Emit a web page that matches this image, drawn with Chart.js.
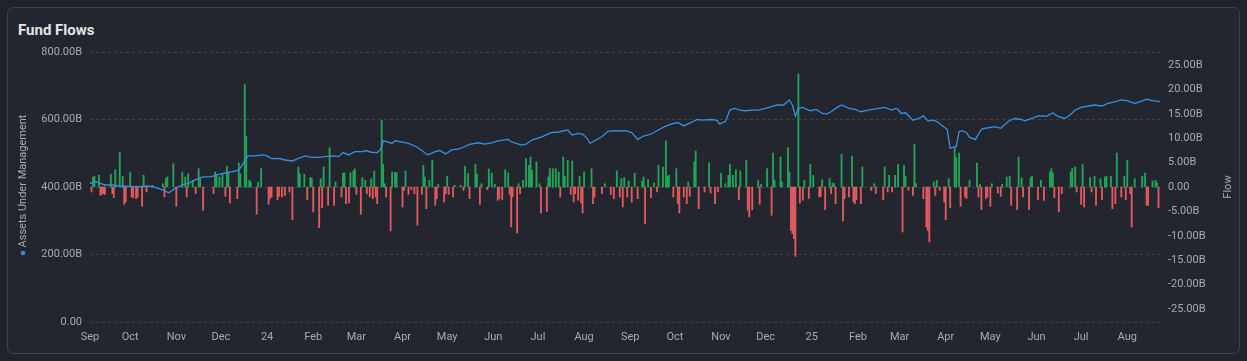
<!DOCTYPE html>
<html>
<head>
<meta charset="utf-8">
<title>Fund Flows</title>
<script src="https://cdn.jsdelivr.net/npm/chart.js@4.4.1/dist/chart.umd.min.js"></script>
<style>
    html, body { margin: 0; padding: 0; background: #20232a; }
    body { width: 1247px; height: 361px; position: relative; overflow: hidden; font-family: Roboto, "Noto Sans", sans-serif; }
    .card { position: absolute; left: 7px; top: 7px; width: 1231px; height: 345px; background: #23262e; border: 1px solid #3e424b; border-radius: 6px; }
    .title { position: absolute; left: 18px; top: 21px; font-size: 15px; font-weight: bold; color: #e4e5e7; }
    #chart-container { position: absolute; left: 0; top: 0; }
</style>
</head>
<body>
<div class="card"></div>
<div class="title">Fund Flows</div>
<canvas id="chart-container" width="1247" height="361"></canvas>
<script>
// x values are days counted from 2023-09-01
const monthTickDays = [3, 30, 61, 91, 122, 153, 182, 213, 243, 274, 304, 335, 366, 396, 427, 457, 488, 519, 547, 578, 608, 639, 669, 700];
const monthTickLabels = ["Sep", "Oct", "Nov", "Dec", "24", "Feb", "Mar", "Apr", "May", "Jun", "Jul", "Aug",
    "Sep", "Oct", "Nov", "Dec", "25", "Feb", "Mar", "Apr", "May", "Jun", "Jul", "Aug"];

// assets under management, billions
const aumDays = [3, 7, 10, 13, 18, 22, 29, 36, 42, 47, 52, 56, 59, 65, 69, 74, 78, 85, 88, 92, 98, 103, 106, 109, 114, 119,
    122, 125, 130, 134, 139, 143, 148, 152, 157, 161, 166, 170, 173, 177, 181, 186, 188, 192, 196, 198, 199, 200, 203, 206,
    208, 213, 217, 222, 226, 230, 235, 238, 242, 246, 251, 255, 258, 264, 268, 273, 277, 284, 286, 291, 293, 296, 300, 307,
    313, 318, 324, 327, 331, 334, 337, 339, 342, 347, 351, 356, 360, 363, 367, 371, 375, 380, 385, 389, 394, 398, 402, 406,
    411, 415, 420, 424, 426, 430, 433, 436, 440, 443, 448, 452, 457, 461, 465, 469, 473, 475, 477, 479, 482, 487, 491, 495,
    498, 501, 504, 508, 513, 517, 521, 526, 533, 537, 542, 544, 546, 548, 551, 553, 556, 560, 563, 566, 570, 573, 577, 579,
    581, 584, 585, 587, 589, 592, 594, 598, 602, 604, 609, 611, 615, 620, 624, 629, 631, 636, 640, 646, 650, 653, 658, 661,
    665, 669, 674, 678, 683, 687, 692, 696, 700, 705, 709, 713, 717, 722];
const aumValues = [411, 416, 411, 406, 406, 403, 402, 401, 403, 399, 391, 383, 393, 406, 411, 421, 429, 431, 436, 440, 445, 450, 470, 492, 492, 495,
    492, 484, 485, 480, 477, 485, 492, 488, 488, 490, 492, 490, 502, 495, 505, 505, 508, 503, 502, 510, 520, 537, 534, 529,
    537, 533, 529, 520, 508, 495, 505, 508, 498, 510, 513, 520, 526, 531, 527, 531, 537, 541, 534, 527, 524, 527, 539, 549,
    561, 563, 569, 554, 559, 557, 544, 529, 537, 549, 565, 567, 566, 567, 561, 541, 551, 557, 569, 579, 587, 591, 581, 589,
    600, 598, 600, 598, 587, 594, 628, 633, 628, 626, 628, 628, 633, 638, 643, 643, 658, 643, 610, 633, 636, 626, 630, 618,
    616, 623, 633, 643, 633, 630, 623, 628, 633, 636, 628, 633, 630, 618, 620, 611, 598, 603, 611, 596, 598, 591, 577, 571,
    515, 519, 519, 564, 567, 561, 547, 541, 571, 574, 577, 579, 574, 594, 603, 600, 596, 603, 611, 610, 620, 610, 603, 611,
    628, 636, 640, 643, 640, 648, 653, 658, 656, 648, 653, 660, 656, 653];

// daily net flow, billions
const flowDays = [4, 5, 6, 9, 10, 11, 12, 13, 17, 18, 19, 20, 23, 25, 26, 27, 30, 31, 32, 34, 35, 38, 39, 41, 45, 52, 53, 54, 55, 59,
    61, 65, 67, 68, 69, 72, 74, 76, 77, 79, 86, 87, 88, 90, 92, 94, 95, 96, 97, 102, 103, 104, 107, 108, 110, 111, 115, 116, 118,
    123, 124, 125, 129, 130, 132, 134, 137, 139, 143, 144, 147, 149, 151, 152, 153, 157, 158, 159, 160, 163, 164, 167, 168, 172,
    173, 174, 175, 177, 178, 180, 181,
    182, 185, 186, 188, 189, 191, 192, 193, 194, 195, 196, 199, 200, 201, 202, 205, 206, 208, 209, 213, 214, 215, 217, 219, 221,
    223, 226, 227, 228, 229, 231, 233, 235, 236, 237, 241, 242, 243, 244, 247, 248, 252, 254, 255, 257, 258, 262, 263, 265, 266,
    270, 271, 273, 275, 277, 278, 280, 282, 284, 285, 286, 287, 290, 291, 292, 294, 296, 298, 299, 300, 303, 305, 306, 310, 311,
    312, 314, 316, 318, 319, 321, 322, 324, 326, 327, 328, 329, 331, 332, 333, 334, 335, 340, 341, 342, 347, 349, 353, 355, 357,
    359, 360, 361, 362, 364, 365,
    367, 369, 371, 374, 375, 376, 378, 380, 382, 384, 385, 388, 390, 391, 392, 395, 397, 398, 399, 402, 404, 405, 406, 409, 410,
    412, 416, 419, 420, 423, 425, 427, 430, 432, 433, 435, 437, 439, 440, 444, 445, 446, 448, 452, 453, 454, 458, 461, 462, 463,
    467, 468, 472, 473, 474, 475, 476, 477, 479, 480, 482, 483, 486, 487, 489, 493, 494, 495, 497, 500, 501, 502, 503, 504, 508,
    509, 510, 513, 515, 516, 517, 518, 521, 522, 528, 530, 531, 536, 537, 539, 540,
    542, 544, 546, 549, 550, 551, 553, 556, 557, 558, 563, 565, 566, 567, 570, 571, 572, 574, 577, 578, 580, 581, 584, 585, 587,
    588, 591, 592, 594, 599, 600, 601, 602, 605, 606, 608, 609, 613, 615, 616, 619, 621, 622, 626, 627, 629, 630, 634, 635, 636,
    640, 642, 644, 648, 649, 650, 651, 654, 656, 662, 663, 665, 666, 669, 670, 671, 675, 676, 678, 679, 682, 683, 685, 686, 689,
    690, 692, 693, 696, 698, 699, 700, 702, 703, 705, 710, 712, 713, 714, 717, 719, 720, 721];
const flowValues = [-1.02, 2.05, 2.19, 2.39, -1.71, -1.5, -1.37, -1.5, 2.6, -1.37, -2.19, 3.55, 7.17, 2.19, -3.55, -3.07, 3.07, -2.05, -2.19, -2.39, -2.05, -3.96, 2.39, -1.02, 0.34, 0.68, -2.05, 1.71, 2.05, 4.78,
    -3.96, 3.07, 2.05, -2.05, 2.73, 1.37, -1.37, 3.76, 1.71, -4.78, -1.37, 3.07, 2.39, 2.05, 2.73, -1.91, 4.23, 3.07, -3.28, -2.39, 4.92, 2.73, 20.97, 10.38, 1.37, 1.02, -5.6, 1.02, 3.76,
    -3.55, -2.39, -2.05, -2.6, -1.91, -2.05, -1.71, -1.02, -6.69, 4.1, 2.73, 2.6, -2.6, 1.91, 1.84, -5.12, -8.33, 1.71, -4.23, 4.1, -3.76, 8.06, -3.76, 1.02, -2.05,
    2.87, 2.87, -3.42, -3.28, 2.94, 3.28, 3.69,
    -1.5, -5.6, 1.91, 1.37, -1.37, -2.05, 1.71, -2.39, 3.28, -2.05, -3.42, 13.66, 4.64, 0.68, -2.05, -9.02, 3.07, 3.01, 2.87, -4.1, -0.68, 3.28, -1.5, -0.55, -1.37,
    -7.86, -1.5, 4.44, 2.05, -4.44, 1.37, 5.46, -3.76, -2.39, 0.55, -3.07, -1.37, 2.19, -1.5, -2.05, 0.34, 0.34, -0.68, 4.23, 2.73, -2.39, 4.64, 2.6, -3.55, 0.68,
    -0.55, 3.69, 2.87, 0.55, -2.73, -2.39, -2.6, 3.55, 2.87, -1.5, -8.2, -2.05, -9.43, 0.68, -1.37, 1.37, 5.81, 4.44, 6.15, 3.42, 5.12, 0.68, -5.33, -4.99, 2.05,
    3.76, 3.76, 3.76, 3.07, -2.05, 6.15, 2.19, 5.46, -1.5, 5.33, -3.07, -1.37, -2.73, 2.19, -3.28, -5.33, 3.07, 3.76, -3.42, -2.05, -1.37, 0.68, -1.5, -2.39, 3.28,
    -2.05, 1.71, -4.1, 1.91, -2.05, 1.23,
    -3.07, 2.87, -2.39, 1.23, 2.05, -7.51, 1.5, -2.19, 0.82, -1.02, 4.44, 4.1, 9.43, 2.19, 2.39, -2.05, 3.76, -3.42, -5.33, -2.05, -3.42, 1.02, -1.91, 5.12, 7.38,
    -4.44, -1.02, 4.92, -1.23, -3.42, -1.02, 2.87, 0.68, 2.39, 4.64, 2.39, 3.55, -2.6, 3.28, 5.46, -4.78, -6.15, -4.64, 1.37, -3.55, 0.55, 3.76, -5.81, 6.97, 1.37,
    6.15, 1.02, 8.06, 3.07, -8.88, -9.56, -10.59, -14.21, 23.22, -3.28, -2.73, 1.37, -2.39, 4.64, 2.39, -2.05, -1.91, 1.5, -4.64, 1.71, -1.37, 0.82, 0.68, -3.42, 6.69,
    -6.97, -2.39, -2.05, 6.28, -3.07, -3.42, -2.6, -3.42, 4.1, -0.68, 0.68, -1.37, -2.6, 4.1, -1.02, 2.39,
    -1.02, 2.39, 4.64, -9.22, 4.44, 2.19, -0.68, -1.71, 8.74, 0.68, -2.39, -8.2, -8.88, -11.27, 1.02, -1.71, 1.37, -0.68, -3.07, -6.69, 1.71, -4.23, 8.2, 6.01, 6.97,
    -3.96, -2.05, -2.39, 1.37, 4.92, -2.05, 0.55, -4.64, -2.39, -2.05, -3.96, 0.68, -1.23, -1.91, 0.55, 2.05, 2.19, -3.76, -4.64, 6.15, 1.91, -2.05, -4.64, 1.91, 2.19,
    -2.6, 1.37, -2.73, 3.07, 3.76, 2.87, -2.19, -5.12, -1.37, 3.07, 3.76, 4.1, -1.02, -3.55, 4.64, -4.1, 1.91, -1.02, 2.19, -3.76, 1.71, -2.6, 2.05, 2.19, 2.19,
    -4.44, -3.42, 6.97, -2.05, 2.19, -2.6, 5.46, -1.37, -8.2, 1.71, 2.19, 2.87, -3.76, -3.76, 1.23, 1.37, 0.82, -4.23];

const GREEN = "#22a559";
const RED = "#e05a5f";
const LINE_BLUE = "#3a8fe3";
const TEXT = "#a8abb1";

const fmtB = (v) => (v === 0 ? "0.00" : v.toFixed(2) + "B");

// draws the rotated axis titles (both read bottom to top) and the legend dot
const axisTitles = {
    id: "axisTitles",
    afterDraw(chart) {
        const ctx = chart.ctx;
        ctx.save();
        ctx.font = "11px Roboto, 'Noto Sans', sans-serif";
        ctx.fillStyle = TEXT;
        ctx.textAlign = "center";
        ctx.textBaseline = "middle";

        ctx.save();
        ctx.translate(23, 181);
        ctx.rotate(-Math.PI / 2);
        ctx.fillText("Assets Under Management", 0, 0);
        ctx.restore();

        ctx.beginPath();
        ctx.arc(23, 253, 2.3, 0, Math.PI * 2);
        ctx.fillStyle = LINE_BLUE;
        ctx.fill();

        ctx.fillStyle = TEXT;
        ctx.save();
        ctx.translate(1228, 187);
        ctx.rotate(-Math.PI / 2);
        ctx.fillText("Flow", 0, 0);
        ctx.restore();
        ctx.restore();
    },
};

new Chart(document.getElementById("chart-container"), {
    data: {
        datasets: [
            {
                type: "line",
                label: "Assets Under Management",
                data: aumDays.map((d, i) => ({ x: d, y: aumValues[i] })),
                yAxisID: "y",
                borderColor: LINE_BLUE,
                borderWidth: 1.3,
                pointRadius: 0,
                tension: 0,
                order: 0,
            },
            {
                type: "bar",
                label: "Flow",
                data: flowDays.map((d, i) => ({ x: d, y: flowValues[i] })),
                yAxisID: "y1",
                backgroundColor: (c) => (c.raw && c.raw.y < 0 ? RED : GREEN),
                barThickness: 1.2,
                order: 1,
            },
        ],
    },
    options: {
        responsive: false,
        animation: false,
        layout: { padding: { top: 52, left: 10, right: 10, bottom: 5 } },
        plugins: { legend: { display: false }, tooltip: { enabled: false } },
        scales: {
            x: {
                type: "linear",
                offset: false,
                min: 3,
                max: 722,
                grid: { display: false, drawTicks: false, offset: false },
                border: { display: false },
                afterBuildTicks: (scale) => {
                    scale.ticks = monthTickDays.map((v) => ({ value: v }));
                },
                afterFit: (scale) => { scale.height = 34; },
                ticks: {
                    autoSkip: false,
                    maxRotation: 0,
                    padding: 9,
                    color: TEXT,
                    font: { size: 11, family: "Roboto" },
                    callback: (v, i) => monthTickLabels[i],
                },
            },
            y: {
                position: "left",
                min: 0,
                max: 800,
                afterFit: (scale) => { scale.width = 80; },
                grid: { color: "rgba(255,255,255,0.12)", drawTicks: false },
                border: { display: false, dash: [3, 3] },
                ticks: {
                    stepSize: 200,
                    padding: 8,
                    color: TEXT,
                    font: { size: 11, family: "Roboto" },
                    callback: (v) => fmtB(v),
                },
            },
            y1: {
                position: "right",
                min: -27.66,
                max: 27.66,
                afterFit: (scale) => { scale.width = 77; },
                grid: { display: false, drawTicks: false },
                border: { display: false },
                ticks: {
                    stepSize: 5,
                    includeBounds: false,
                    padding: 8,
                    color: TEXT,
                    font: { size: 11, family: "Roboto" },
                    callback: (v) => fmtB(v),
                },
            },
        },
    },
    plugins: [axisTitles],
});
</script>
</body>
</html>
